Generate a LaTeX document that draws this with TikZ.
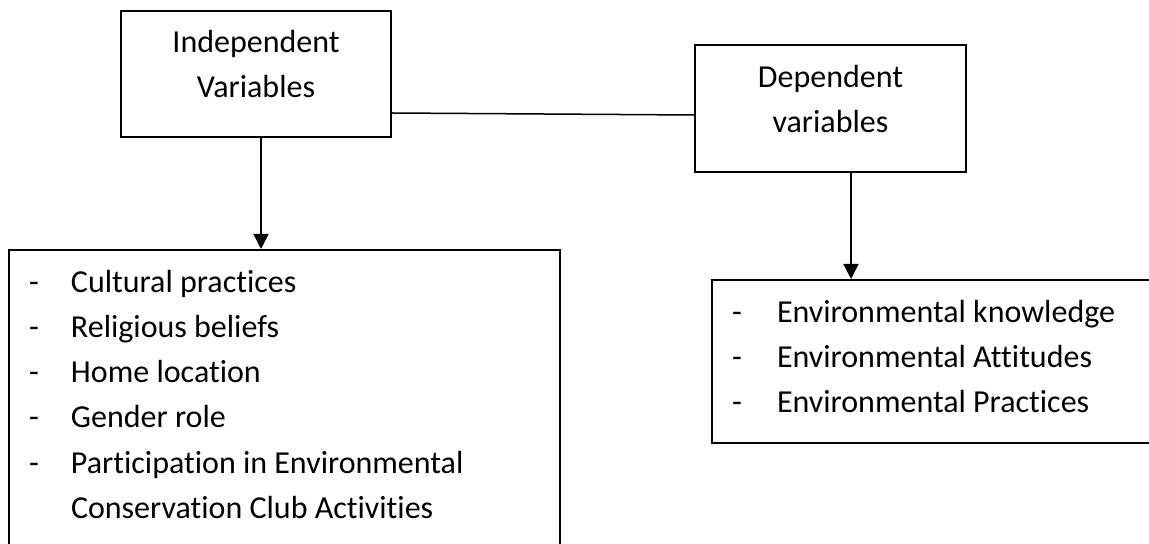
\documentclass[tikz,border=0pt]{standalone}
\usepackage{fontspec}
\setmainfont{Carlito}[Ligatures={NoCommon,NoRare}]
\usetikzlibrary{arrows.meta}

% 列表中的一行：短横线 + 文字
\newcommand{\dashitem}[2][21pt]{\makebox[#1][l]{-}#2}

\tikzset{
  varbox/.style={draw, line width=1pt, inner sep=0pt, anchor=north west, align=flush center,
    font=\fontsize{16pt}{22.5pt}\selectfont},
  listbox/.style={draw, line width=1pt, inner ysep=0pt, inner xsep=10pt, anchor=north west, align=flush left,
    font=\fontsize{16pt}{22.5pt}\selectfont},
  link/.style={line width=0.75pt},
  arr/.style={link, -{Triangle[length=7.5pt,width=7.5pt]}}
}

\begin{document}
\begin{tikzpicture}[x=0.5pt,y=-0.5pt]  % 以像素为单位，y 轴向下

    \useasboundingbox (0,0) rectangle (1149,544);
    \clip (0,0) rectangle (1149,544);

    % 上方两个变量框
    \node[varbox, text width=135pt, text height=21pt, text depth=42pt] (indep) at (120,10) {Independent\\Variables}; % 自变量
    \node[varbox, text width=135.5pt, text height=21.5pt, text depth=42pt] (dep) at (694,44) {Dependent\\variables}; % 因变量

    % 下方两个列表框
    \node[listbox, text width=255.5pt, text height=21.5pt, text depth=142pt] (ivlist) at (8,249) {%
        \dashitem{Cultural practices}\\
        \dashitem{Religious beliefs}\\
        \dashitem{Home location}\\
        \dashitem{Gender role}\\
        \dashitem{Participation in Environmental}\\
        \hspace*{21pt}Conservation Club Activities}; % 左侧列表
    \node[listbox, text width=202.5pt, text height=21.5pt, text depth=60pt] (dvlist) at (711,279) {%
        \dashitem[22.5pt]{Environmental knowledge}\\
        \dashitem[22.5pt]{Environmental Attitudes}\\
        \dashitem[22.5pt]{Environmental Practices}}; % 右侧列表

    % 连线与箭头
    \draw[link] ([yshift=-19.5pt]indep.east) -- ([yshift=-3.25pt]dep.west);
    \draw[arr] ([xshift=2.5pt]indep.south) -- ([xshift=2.5pt]indep.south |- ivlist.north);
    \draw[arr] ([xshift=10.25pt]dep.south) -- ([xshift=10.25pt]dep.south |- dvlist.north);

\end{tikzpicture}
\end{document}
